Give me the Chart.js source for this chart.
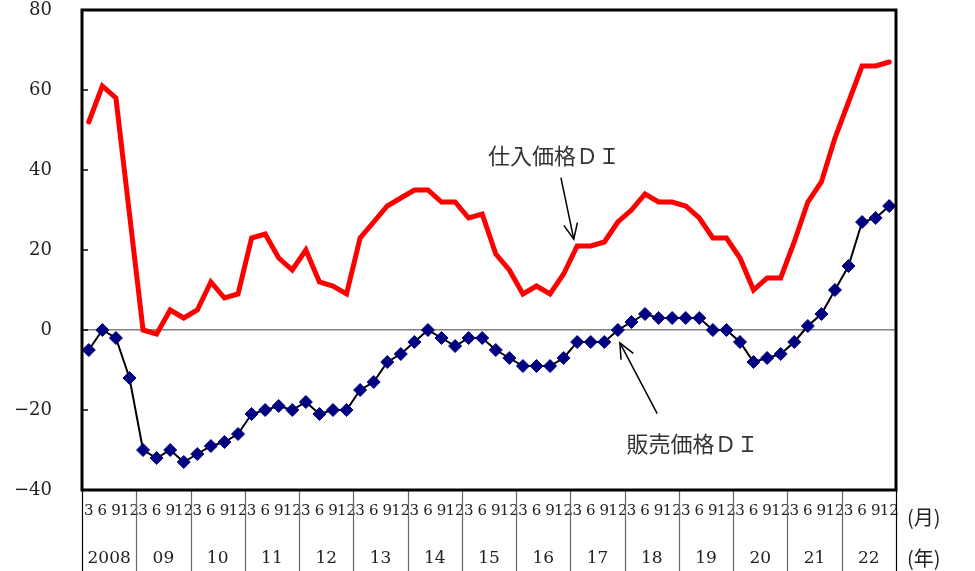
<!DOCTYPE html>
<html>
<head>
<meta charset="utf-8">
<script src="https://cdn.jsdelivr.net/npm/chart.js@4.4.1/dist/chart.umd.min.js"></script>
<style>
  html, body { margin: 0; padding: 0; background: #fff; }
</style>
</head>
<body>
<canvas id="di-chart" width="975" height="571"></canvas>
<script>
// years on the bottom row, quarter-end months on the upper row
const years = ['2008', '09', '10', '11', '12', '13', '14', '15', '16', '17', '18', '19', '20', '21', '22'];
const months = ['3', '6', '9', '12'];

// 仕入価格DI (quarterly, 2008/3 .. 2022/12)
const purchasePriceDI = [
    52, 61, 58, 29,
    0, -1, 5, 3,
    5, 12, 8, 9,
    23, 24, 18, 15,
    20, 12, 11, 9,
    23, 27, 31, 33,
    35, 35, 32, 32,
    28, 29, 19, 15,
    9, 11, 9, 14,
    21, 21, 22, 27,
    30, 34, 32, 32,
    31, 28, 23, 23,
    18, 10, 13, 13,
    22, 32, 37, 48,
    57, 66, 66, 67
];

// 販売価格DI
const salesPriceDI = [
    -5, 0, -2, -12,
    -30, -32, -30, -33,
    -31, -29, -28, -26,
    -21, -20, -19, -20,
    -18, -21, -20, -20,
    -15, -13, -8, -6,
    -3, 0, -2, -4,
    -2, -2, -5, -7,
    -9, -9, -9, -7,
    -3, -3, -3, 0,
    2, 4, 3, 3,
    3, 3, 0, 0,
    -3, -8, -7, -6,
    -3, 1, 4, 10,
    16, 27, 28, 31
];

const yTicks = [-40, -20, 0, 20, 40, 60, 80];

const quarterLabels = [];
years.forEach(y => months.forEach(m => quarterLabels.push(y + '/' + m)));

// callouts, placed in data units (category index, DI value)
const callouts = [
    { text: '仕入価格ＤＩ', at: [34.3, 43.6], from: [34.8, 38.1], to: [35.75, 22.7] },
    { text: '販売価格ＤＩ', at: [44.5, -28.4], from: [41.9, -20.9], to: [39.15, -3.2] }
];

const serif = '"DejaVu Serif", "Liberation Serif", serif';
const cjk = '"Noto Sans CJK JP", sans-serif';

const decorPlugin = {
    id: 'decor',
    afterDraw(chart) {
        const ctx = chart.ctx;
        const area = chart.chartArea;
        const xs = chart.scales.x;
        const ys = chart.scales.y;
        const H = chart.height;

        ctx.save();

        // short inner ticks on the value axis
        ctx.strokeStyle = '#000';
        ctx.lineWidth = 1.5;
        yTicks.forEach(v => {
            if (v === yTicks[0] || v === yTicks[yTicks.length - 1]) return;
            const py = ys.getPixelForValue(v);
            ctx.beginPath();
            ctx.moveTo(area.left, py);
            ctx.lineTo(area.left + 6, py);
            ctx.stroke();
        });

        // year separators through both label rows
        for (let k = 0; k <= years.length; k++) {
            let px;
            if (k === 0) px = area.left;
            else if (k === years.length) px = area.right;
            else px = (xs.getPixelForValue(4 * k - 1) + xs.getPixelForValue(4 * k)) / 2;
            ctx.strokeStyle = (k === 0 || k === years.length) ? '#000' : '#666';
            ctx.lineWidth = 1.2;
            ctx.beginPath();
            ctx.moveTo(Math.round(px) + 0.5, area.bottom);
            ctx.lineTo(Math.round(px) + 0.5, H);
            ctx.stroke();
        }

        // year labels
        ctx.fillStyle = '#222';
        ctx.font = '17px ' + serif;
        ctx.textAlign = 'center';
        ctx.textBaseline = 'middle';
        years.forEach((y, k) => {
            const px = (xs.getPixelForValue(4 * k) + xs.getPixelForValue(4 * k + 3)) / 2;
            ctx.fillText(y, px, 559);
        });

        // unit marks
        ctx.font = '20px ' + cjk;
        ctx.textAlign = 'left';
        ctx.fillText('(月)', area.right + 11, 517);
        ctx.fillText('(年)', area.right + 11, 558);

        // plot frame
        ctx.strokeStyle = '#000';
        ctx.lineWidth = 3;
        ctx.strokeRect(area.left, area.top, area.right - area.left, area.bottom - area.top);

        // callouts with arrows
        callouts.forEach(c => {
            ctx.fillStyle = '#333';
            ctx.font = '22px ' + cjk;
            ctx.textAlign = 'center';
            ctx.textBaseline = 'middle';
            ctx.fillText(c.text, xs.getPixelForValue(c.at[0]), ys.getPixelForValue(c.at[1]));

            const x1 = xs.getPixelForValue(c.from[0]), y1 = ys.getPixelForValue(c.from[1]);
            const x2 = xs.getPixelForValue(c.to[0]), y2 = ys.getPixelForValue(c.to[1]);
            ctx.strokeStyle = '#000';
            ctx.lineWidth = 1.5;
            ctx.beginPath();
            ctx.moveTo(x1, y1);
            ctx.lineTo(x2, y2);
            ctx.stroke();
            const ang = Math.atan2(y2 - y1, x2 - x1);
            const len = 17, spread = 0.42;
            ctx.beginPath();
            ctx.moveTo(x2 - len * Math.cos(ang - spread), y2 - len * Math.sin(ang - spread));
            ctx.lineTo(x2, y2);
            ctx.lineTo(x2 - len * Math.cos(ang + spread), y2 - len * Math.sin(ang + spread));
            ctx.stroke();
        });

        ctx.restore();
    }
};

const diChart = new Chart(document.getElementById('di-chart').getContext('2d'), {
    type: 'line',
    data: {
        labels: quarterLabels,
        datasets: [
            {
                label: '販売価格ＤＩ',
                data: salesPriceDI,
                borderColor: '#000',
                borderWidth: 2,
                tension: 0,
                pointStyle: 'rectRot',
                pointRadius: 6.5,
                pointBackgroundColor: '#000080',
                pointBorderColor: '#000080',
                pointBorderWidth: 1
            },
            {
                label: '仕入価格ＤＩ',
                data: purchasePriceDI,
                borderColor: '#ff0000',
                borderWidth: 5,
                borderCapStyle: 'round',
                tension: 0,
                pointRadius: 0
            }
        ]
    },
    options: {
        responsive: false,
        animation: false,
        devicePixelRatio: 1,
        layout: { padding: { left: 0, right: 79, top: 10, bottom: 0 } },
        plugins: {
            legend: { display: false },
            tooltip: { enabled: false }
        },
        scales: {
            x: {
                type: 'category',
                offset: true,
                border: { display: false },
                grid: { display: false, drawTicks: false },
                ticks: {
                    autoSkip: false,
                    maxRotation: 0,
                    minRotation: 0,
                    padding: 12,
                    color: '#222',
                    font: { family: serif, size: 15 },
                    callback: (v, i) => months[i % months.length]
                },
                afterFit: s => { s.height = 81; s.paddingLeft = 0; s.paddingRight = 0; }
            },
            y: {
                min: yTicks[0],
                max: yTicks[yTicks.length - 1],
                border: { display: false },
                grid: {
                    drawTicks: false,
                    color: c => (c.tick && c.tick.value === 0) ? '#808080' : 'rgba(0,0,0,0)',
                    lineWidth: 1.5
                },
                ticks: {
                    stepSize: 20,
                    padding: 30,
                    color: '#222',
                    font: { family: serif, size: 18 },
                    callback: v => (v < 0 ? '−' + Math.abs(v) : String(v))
                },
                afterFit: s => { s.width = 82; s.paddingTop = 0; s.paddingBottom = 0; }
            }
        }
    },
    plugins: [decorPlugin]
});
</script>
</body>
</html>
